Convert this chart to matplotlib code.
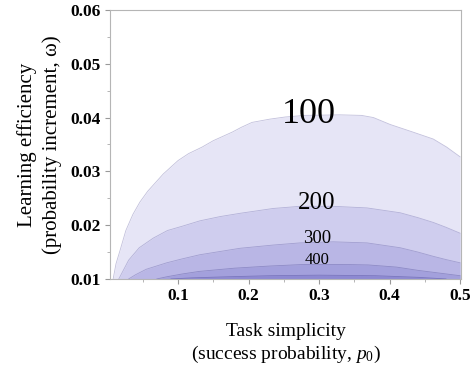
import numpy as np
import matplotlib
matplotlib.use("Agg")
import matplotlib.pyplot as plt
from matplotlib.ticker import MultipleLocator

plt.rcParams['font.family'] = ['Liberation Serif', 'DejaVu Serif']
plt.rcParams['mathtext.fontset'] = 'custom'
plt.rcParams['mathtext.rm'] = 'Liberation Serif'
plt.rcParams['mathtext.it'] = 'Liberation Serif:italic'

# contour levels and their upper boundaries (p0, omega), lower edge is the axis floor
levels = [100, 200, 300, 400, 500]

p_100 = [0.008, 0.012, 0.018, 0.026, 0.036, 0.046, 0.057, 0.079, 0.100, 0.115,
         0.134, 0.150, 0.177, 0.190, 0.205, 0.230, 0.252, 0.280, 0.330, 0.360,
         0.377, 0.401, 0.433, 0.462, 0.481, 0.500]
w_100 = [0.0100, 0.0128, 0.0154, 0.0190, 0.0220, 0.0243, 0.0263, 0.0295, 0.0320, 0.0333,
         0.0345, 0.0357, 0.0373, 0.0382, 0.0391, 0.0397, 0.0401, 0.0404, 0.0405, 0.0404,
         0.0400, 0.0387, 0.0373, 0.0360, 0.0345, 0.0327]

p_200 = [0.016, 0.018, 0.030, 0.045, 0.065, 0.085, 0.106, 0.131, 0.160, 0.188,
         0.235, 0.273, 0.320, 0.368, 0.415, 0.440, 0.462, 0.480, 0.500]
w_200 = [0.0100, 0.0105, 0.0135, 0.0158, 0.0176, 0.0190, 0.0198, 0.0208, 0.0216, 0.0222,
         0.0231, 0.0235, 0.0235, 0.0232, 0.0223, 0.0214, 0.0205, 0.0196, 0.0185]

p_300 = [0.030, 0.040, 0.055, 0.084, 0.105, 0.131, 0.188, 0.235, 0.273, 0.320,
         0.368, 0.415, 0.440, 0.462, 0.480, 0.500]
w_300 = [0.0100, 0.0108, 0.0118, 0.0130, 0.0137, 0.0145, 0.0157, 0.0163, 0.0167, 0.0169,
         0.0167, 0.0158, 0.0150, 0.0142, 0.0136, 0.0130]

p_400 = [0.070, 0.084, 0.105, 0.130, 0.180, 0.230, 0.280, 0.330, 0.370, 0.410,
         0.440, 0.470, 0.500]
w_400 = [0.0100, 0.0104, 0.0109, 0.0114, 0.0120, 0.0124, 0.0127, 0.0127, 0.0126, 0.0122,
         0.0116, 0.0111, 0.0106]

p_500 = [0.090, 0.120, 0.170, 0.230, 0.300, 0.380, 0.440, 0.480]
w_500 = [0.0100, 0.0102, 0.0104, 0.0106, 0.0107, 0.0106, 0.0103, 0.0100]

x_ticks = [0.1, 0.2, 0.3, 0.4, 0.5]
y_ticks = [0.01, 0.02, 0.03, 0.04, 0.05, 0.06]

bounds = [(p_100, w_100), (p_200, w_200), (p_300, w_300), (p_400, w_400), (p_500, w_500)]
fills = ['#e6e5f6', '#cfcdee', '#b9b6e5', '#a3a0dc', '#8d89d2']
edges = ['#c2c0dc', '#b3b1d8', '#a19ed0', '#8d8ac6', '#7975bd']

fig = plt.figure(figsize=(4.72, 3.68), dpi=100)
ax = fig.add_axes([0.233, 0.242, 0.744, 0.731])

for (px, wy), fc, ec in zip(bounds, fills, edges):
    px = np.asarray(px)
    wy = np.asarray(wy)
    ax.fill_between(px, 0.01, wy, color=fc, linewidth=0, zorder=2)
    ax.plot(px, wy, color=ec, linewidth=0.6, zorder=3)

# contour labels
ax.text(0.286, 0.0405, '100', fontsize=26, ha='center', va='center', zorder=5)
ax.text(0.297, 0.0242, '200', fontsize=18, ha='center', va='center', zorder=5)
ax.text(0.297, 0.0176, '300', fontsize=13.5, ha='center', va='center', zorder=5)
ax.text(0.297, 0.0136, '400', fontsize=12, ha='center', va='center', zorder=5)

ax.set_xlim(0.0035, 0.5015)
ax.set_ylim(0.01, 0.06)
ax.set_xticks(x_ticks)
ax.set_yticks(y_ticks)
ax.set_xticklabels(['%.1f' % v for v in x_ticks], fontweight='bold', fontsize=12.5)
ax.set_yticklabels(['%.2f' % v for v in y_ticks], fontweight='bold', fontsize=12.5)
ax.xaxis.set_minor_locator(MultipleLocator(0.05))
ax.yaxis.set_minor_locator(MultipleLocator(0.005))
ax.tick_params(which='major', length=3.5, width=0.8, color='#999999', pad=3)
ax.tick_params(which='minor', length=2, width=0.6, color='#aaaaaa')
for s in ax.spines.values():
    s.set_color('#b5b5b5')
    s.set_linewidth(0.8)

ax.set_xlabel('Task simplicity\n(success probability, $p_0$)', fontsize=14,
              linespacing=1.22, labelpad=14)
ax.set_ylabel('Learning efficiency\n(probability increment, ω)', fontsize=15,
              linespacing=1.35)
ax.yaxis.set_label_coords(-0.137, 0.5)

fig.savefig('out.png', dpi=100)
